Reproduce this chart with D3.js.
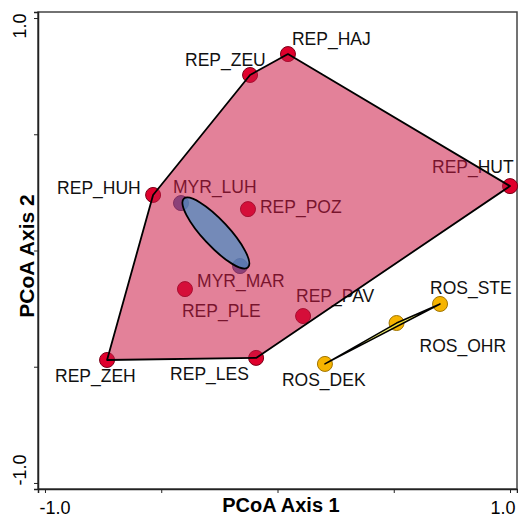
<!DOCTYPE html>
<html lang="en">
<head>
<meta charset="utf-8">
<title>PCoA</title>
<script src="https://cdn.jsdelivr.net/npm/d3@7"></script>
<style>
  body { margin: 0; background: white; }
  text { font-family: "Liberation Sans", Arial, sans-serif; }
</style>
</head>
<body>
<div id="chart"></div>
<script>
// site names, group and PCoA scores
var sites  = ["REP_HAJ", "REP_ZEU", "REP_HUT", "REP_HUH", "MYR_LUH", "REP_POZ", "MYR_MAR",
              "REP_PLE", "REP_PAV", "REP_ZEH", "REP_LES", "ROS_DEK", "ROS_OHR", "ROS_STE"];
var groups = ["REP", "REP", "REP", "REP", "MYR", "REP", "MYR",
              "REP", "REP", "REP", "REP", "ROS", "ROS", "ROS"];
var axis1  = [0.045, -0.118, 1.000, -0.535, -0.415, -0.127, -0.161,
              -0.398, 0.110, -0.733, -0.092, 0.204, 0.512, 0.699];
var axis2  = [0.845, 0.755, 0.277, 0.239, 0.204, 0.178, -0.067,
              -0.166, -0.282, -0.471, -0.462, -0.488, -0.312, -0.230];

// MYR dispersion ellipse: centre, semi-axes (data units), angle (deg)
var myrEllipse = { cx: -0.265, cy: 0.075, rx: 0.202, ry: 0.056, angle: 47 };

var tickVals = [-1, -0.5, 0, 0.5, 1];

// label placement relative to the point (px)
var labelOffset = [[4, -9], [-65, -9], [-78, -13], [-96, -1], [-8, -10], [12, 4], [-43, 21],
                   [-3, 28], [-7, -14], [-52, 22], [-86, 22], [-43, 22], [23, 29], [-10, -10]];

var pointColor = { REP: "#e0002c", MYR: "#3f72b8", ROS: "#f6b400" };
var pointEdge  = { REP: "#7a0018", MYR: "#2a4a80", ROS: "#a07400" };

var width = 518, height = 517;
var box = { left: 38, right: 517, top: 12, bottom: 489 };

var svg = d3.select("#chart").append("svg")
    .attr("width", width)
    .attr("height", height);

var x = d3.scaleLinear().domain([-1.03, 1.03]).range([box.left, box.right]);
var y = d3.scaleLinear().domain([-1.026, 1.026]).range([box.bottom, box.top]);

var data = sites.map(function(s, i) {
    return { name: s, group: groups[i], x: axis1[i], y: axis2[i], off: labelOffset[i] };
});

// frame
svg.append("rect")
    .attr("x", box.left).attr("y", box.top)
    .attr("width", box.right - box.left).attr("height", box.bottom - box.top)
    .attr("fill", "none").attr("stroke", "#444").attr("stroke-width", 1.5);

// axes
var xAxis = svg.append("g")
    .attr("transform", "translate(0," + box.bottom + ")")
    .call(d3.axisBottom(x).tickValues(tickVals).tickSize(4).tickFormat(""));
var yAxis = svg.append("g")
    .attr("transform", "translate(" + box.left + ",0)")
    .call(d3.axisLeft(y).tickValues(tickVals).tickSize(4).tickFormat(""));
[xAxis, yAxis].forEach(function(a) {
    a.select(".domain").attr("stroke", "#222").attr("stroke-width", 1.5);
    a.selectAll(".tick line").attr("stroke", "#222");
});

// tick labels (only the extremes are labelled)
svg.append("text").attr("x", x(-1) + 10).attr("y", 514)
    .attr("text-anchor", "middle").style("font-size", "18px").text("-1.0");
svg.append("text").attr("x", x(1) - 7).attr("y", 514)
    .attr("text-anchor", "middle").style("font-size", "18px").text("1.0");
svg.append("text")
    .attr("transform", "translate(26," + (y(1) + 8) + ") rotate(-90)")
    .attr("text-anchor", "middle").style("font-size", "18px").text("1.0");
svg.append("text")
    .attr("transform", "translate(26," + (y(-1) - 13) + ") rotate(-90)")
    .attr("text-anchor", "middle").style("font-size", "18px").text("-1.0");

// axis titles
svg.append("text")
    .attr("x", 281).attr("y", 512)
    .attr("text-anchor", "middle")
    .style("font-size", "20px").style("font-weight", "bold")
    .text("PCoA Axis 1");
svg.append("text")
    .attr("transform", "translate(34,256) rotate(-90)")
    .attr("text-anchor", "middle")
    .style("font-size", "21px").style("font-weight", "bold")
    .text("PCoA Axis 2");

// points
svg.selectAll(".pt")
    .data(data)
    .enter().append("circle")
    .attr("class", "pt")
    .attr("cx", function(d) { return x(d.x); })
    .attr("cy", function(d) { return y(d.y); })
    .attr("r", 7.5)
    .attr("fill", function(d) { return pointColor[d.group]; })
    .attr("stroke", function(d) { return pointEdge[d.group]; })
    .attr("stroke-width", 1);

// labels
svg.selectAll(".lab")
    .data(data)
    .enter().append("text")
    .attr("class", "lab")
    .attr("x", function(d) { return x(d.x) + d.off[0]; })
    .attr("y", function(d) { return y(d.y) + d.off[1]; })
    .style("font-size", "17.5px")
    .attr("fill", "#111")
    .text(function(d) { return d.name; });

// convex hulls drawn over points and labels
function hull(g) {
    var pts = data.filter(function(d) { return d.group === g; })
        .map(function(d) { return [x(d.x), y(d.y)]; });
    return d3.polygonHull(pts);
}

svg.append("path")
    .attr("d", "M" + hull("REP").join("L") + "Z")
    .attr("fill", "#cc1a45").attr("fill-opacity", 0.55)
    .attr("stroke", "#000").attr("stroke-width", 1.8)
    .attr("stroke-linejoin", "round");

// MYR ellipse
var ex = x(myrEllipse.cx), ey = y(myrEllipse.cy);
svg.append("ellipse")
    .attr("transform", "translate(" + ex + "," + ey + ") rotate(" + myrEllipse.angle + ")")
    .attr("rx", x(myrEllipse.rx) - x(0))
    .attr("ry", x(myrEllipse.ry) - x(0))
    .attr("fill", "#4a8ec4").attr("fill-opacity", 0.72)
    .attr("stroke", "#000").attr("stroke-width", 1.8);

svg.append("path")
    .attr("d", "M" + hull("ROS").join("L") + "Z")
    .attr("fill", "#f2f040").attr("fill-opacity", 0.75)
    .attr("stroke", "#000").attr("stroke-width", 1.5)
    .attr("stroke-linejoin", "round");
</script>
</body>
</html>
